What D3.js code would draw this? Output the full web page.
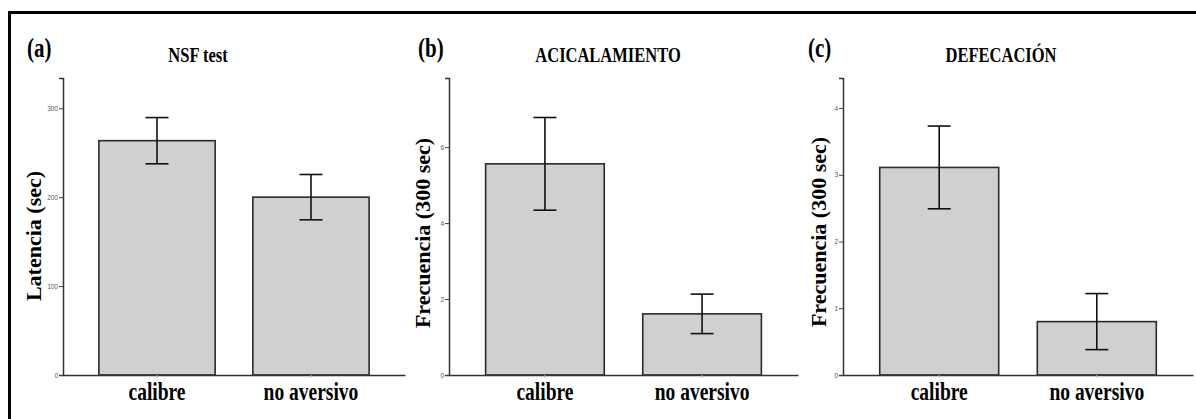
<!DOCTYPE html>
<html>
<head>
<meta charset="utf-8">
<script src="https://cdn.jsdelivr.net/npm/d3@7"></script>
<style>
  html, body { margin: 0; padding: 0; background: #fff; }
  svg { display: block; }
</style>
</head>
<body>
<svg id="chart" width="1196" height="419"></svg>
<script>
// Groups compared in every panel
const categories = ["calibre", "no aversivo"];

// (a) NSF test latency, mean and error
const latencyMeans = [263.5, 200];
const latencyErr = [26, 25.5];
const latencyTicks = [0, 100, 200, 300];

// (b) grooming frequency in 300 s
const groomingMeans = [5.56, 1.61];
const groomingErr = [1.22, 0.52];
const groomingTicks = [0, 2, 4, 6];

// (c) defecation frequency in 300 s
const defecationMeans = [3.11, 0.80];
const defecationErr = [0.62, 0.42];
const defecationTicks = [0, 1, 2, 3, 4];

const panels = [
  { tag: "(a)", title: "NSF test", yLabel: "Latencia (sec)", means: latencyMeans, errs: latencyErr,
    ticks: latencyTicks, yMax: 334, left: 63, right: 405, tagX: 27, titleX: 198,
    labelX: 41, labelY: 236 },
  { tag: "(b)", title: "ACICALAMIENTO", yLabel: "Frecuencia (300 sec)", means: groomingMeans, errs: groomingErr,
    ticks: groomingTicks, yMax: 7.82, left: 449, right: 798, tagX: 418, titleX: 608,
    labelX: 430, labelY: 233 },
  { tag: "(c)", title: "DEFECACIÓN", yLabel: "Frecuencia (300 sec)", means: defecationMeans, errs: defecationErr,
    ticks: defecationTicks, yMax: 4.45, left: 843, right: 1193, tagX: 808, titleX: 1001,
    labelX: 826, labelY: 232 }
];

const svg = d3.select("#chart");
const serif = "'Liberation Serif', 'Times New Roman', serif";
const squeeze = 0.75;           // horizontal text is narrow relative to its height
const yBottom = 375, yTop = 78;

// Outer frame (top and left edges)
svg.append("line").attr("x1", 8).attr("x2", 1196).attr("y1", 12.5).attr("y2", 12.5)
  .attr("stroke", "#000").attr("stroke-width", 3);
svg.append("line").attr("x1", 9.5).attr("x2", 9.5).attr("y1", 11).attr("y2", 419)
  .attr("stroke", "#000").attr("stroke-width", 3);

function squeezedText(g, x, y, txt, size, anchor) {
  return g.append("text")
    .attr("transform", `translate(${x},${y}) scale(${squeeze},1)`)
    .attr("text-anchor", anchor)
    .attr("font-family", serif)
    .attr("font-weight", "bold")
    .attr("font-size", size)
    .attr("fill", "#000")
    .text(txt);
}

panels.forEach(p => {
  const g = svg.append("g");
  const x = d3.scaleBand().domain(categories).range([p.left, p.right])
    .paddingInner(0.245).paddingOuter(0.233);
  const y = d3.scaleLinear().domain([0, p.yMax]).range([yBottom, yTop]);

  // panel tag and title
  squeezedText(g, p.tagX, 57, p.tag, 28, "start");
  squeezedText(g, p.titleX, 62, p.title, 22, "middle");

  // y axis label
  g.append("text")
    .attr("transform", `translate(${p.labelX},${p.labelY}) rotate(-90)`)
    .attr("text-anchor", "middle")
    .attr("font-family", serif)
    .attr("font-weight", "bold")
    .attr("font-size", 22)
    .text(p.yLabel);

  // bars
  g.selectAll("rect.bar").data(p.means).join("rect")
    .attr("class", "bar")
    .attr("x", (d, i) => x(categories[i]))
    .attr("width", x.bandwidth())
    .attr("y", d => y(d))
    .attr("height", d => y(0) - y(d))
    .attr("fill", "#d0d0d0")
    .attr("stroke", "#2a2a2a")
    .attr("stroke-width", 1.6);

  // error bars
  const cap = 11.5;
  p.means.forEach((m, i) => {
    const cx = x(categories[i]) + x.bandwidth() / 2;
    const hi = y(m + p.errs[i]), lo = y(m - p.errs[i]);
    const eb = g.append("g").attr("stroke", "#111").attr("stroke-width", 1.6);
    eb.append("line").attr("x1", cx).attr("x2", cx).attr("y1", hi).attr("y2", lo);
    eb.append("line").attr("x1", cx - cap).attr("x2", cx + cap).attr("y1", hi).attr("y2", hi);
    eb.append("line").attr("x1", cx - cap).attr("x2", cx + cap).attr("y1", lo).attr("y2", lo);
  });

  // y axis
  const yAxis = g.append("g").attr("transform", `translate(${p.left},0)`)
    .call(d3.axisLeft(y).tickValues(p.ticks).tickSize(4).tickPadding(1).tickFormat(d3.format("d")));
  yAxis.select(".domain").attr("stroke", "#333").attr("stroke-width", 1.5);
  yAxis.selectAll(".tick line").attr("stroke", "#444").attr("stroke-width", 1);
  yAxis.selectAll(".tick text").attr("font-family", "'Liberation Sans', Arial, sans-serif")
    .attr("font-size", 6.5).attr("fill", "#555");

  // x axis
  const xAxis = g.append("g").attr("transform", `translate(0,${yBottom})`)
    .call(d3.axisBottom(x).tickSize(3).tickSizeOuter(0).tickFormat(""));
  xAxis.select(".domain").attr("stroke", "#333").attr("stroke-width", 1.5);
  xAxis.selectAll(".tick line").attr("stroke", "#bbb");

  // category labels
  categories.forEach(c => {
    squeezedText(g, x(c) + x.bandwidth() / 2, 400, c, 26, "middle");
  });
});
</script>
</body>
</html>
